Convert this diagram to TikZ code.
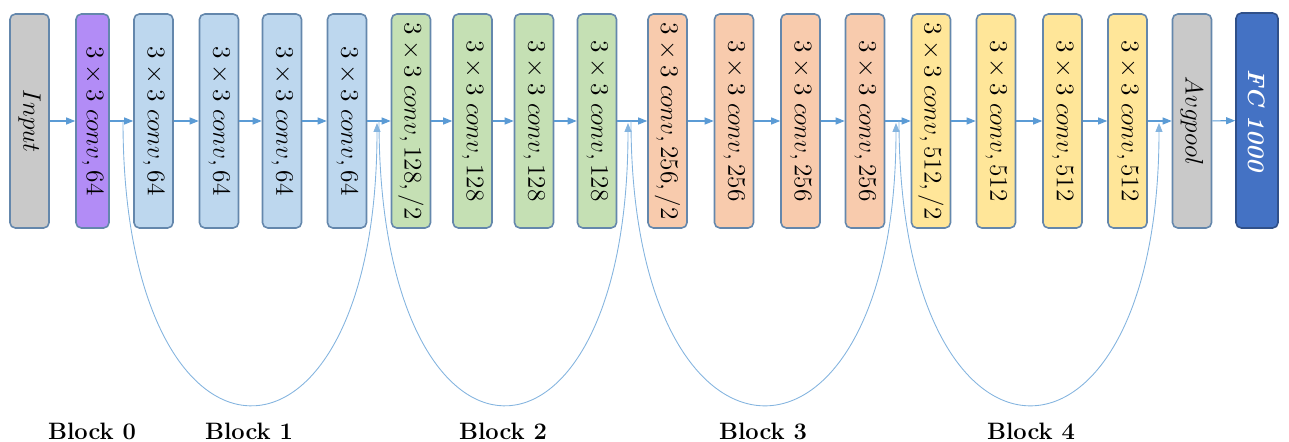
\documentclass[tikz,border=0pt]{standalone}
\usepackage{graphicx}
\usetikzlibrary{arrows.meta}
\definecolor{GrayClr}{RGB}{201,201,201}
\definecolor{PurpleClr}{RGB}{178,140,246}
\definecolor{BlueClr}{RGB}{189,215,238}
\definecolor{GreenClr}{RGB}{197,224,180}
\definecolor{OrangeClr}{RGB}{248,203,173}
\definecolor{YellowClr}{RGB}{255,230,153}
\definecolor{FcClr}{RGB}{68,114,196}
\definecolor{EdgeClr}{RGB}{100,135,172}
\definecolor{LinkClr}{RGB}{91,155,213}
\newcommand{\cv}[1]{\rotatebox{-90}{$3\times3\;conv,#1$}}
\tikzset{
  layer/.style={draw=EdgeClr,line width=0.9pt,rounded corners=3pt,inner sep=0pt,
    minimum width=0.78cm,minimum height=4.28cm,font=\fontsize{15}{18}\selectfont},
  link/.style={LinkClr,line width=0.6pt,-{Triangle[length=1.8mm,width=1.4mm]}},
  skip/.style={LinkClr!75,line width=0.5pt,-{Triangle[length=1.8mm,width=1.4mm]}},
  blocklabel/.style={font=\fontsize{13.5}{16}\selectfont\bfseries}
}
\begin{document}
\begin{tikzpicture}[x=0.02cm,y=-0.02cm]
\useasboundingbox (0,0) rectangle (1289,442);

\node[layer,fill=GrayClr] (In) at (29.5,121) {\rotatebox{-90}{$Input$}};
\node[layer,fill=PurpleClr,minimum width=0.66cm] (C0) at (92.5,121) {\cv{64}};
\node[layer,fill=BlueClr] (B1) at (153.5,121) {\cv{64}};
\node[layer,fill=BlueClr] (B2) at (219,121) {\cv{64}};
\node[layer,fill=BlueClr] (B3) at (282,121) {\cv{64}};
\node[layer,fill=BlueClr] (B4) at (347,121) {\cv{64}};
\node[layer,fill=GreenClr] (G1) at (411,121) {\cv{128,/2}};
\node[layer,fill=GreenClr] (G2) at (472.5,121) {\cv{128}};
\node[layer,fill=GreenClr] (G3) at (534,121) {\cv{128}};
\node[layer,fill=GreenClr] (G4) at (597,121) {\cv{128}};
\node[layer,fill=OrangeClr] (O1) at (667.5,121) {\cv{256,/2}};
\node[layer,fill=OrangeClr] (O2) at (734,121) {\cv{256}};
\node[layer,fill=OrangeClr] (O3) at (800.5,121) {\cv{256}};
\node[layer,fill=OrangeClr] (O4) at (865,121) {\cv{256}};
\node[layer,fill=YellowClr] (Y1) at (931,121) {\cv{512,/2}};
\node[layer,fill=YellowClr] (Y2) at (996,121) {\cv{512}};
\node[layer,fill=YellowClr] (Y3) at (1062.5,121) {\cv{512}};
\node[layer,fill=YellowClr] (Y4) at (1127.5,121) {\cv{512}};
\node[layer,fill=GrayClr] (Pool) at (1192,121) {\rotatebox{-90}{$Avgpool$}};
\node[layer,fill=FcClr,draw=FcClr!70!black,minimum width=0.84cm,minimum height=4.3cm,
  text=white,font=\fontsize{13.5}{16}\selectfont\bfseries\itshape] (FC) at (1257,120.5)
  {\rotatebox{-90}{FC 1000}};

\draw[link] (In) -- (C0);
\draw[link] (C0) -- (B1);
\draw[link] (B1) -- (B2);
\draw[link] (B2) -- (B3);
\draw[link] (B3) -- (B4);
\draw[link] (B4) -- (G1);
\draw[link] (G1) -- (G2);
\draw[link] (G2) -- (G3);
\draw[link] (G3) -- (G4);
\draw[link] (G4) -- (O1);
\draw[link] (O1) -- (O2);
\draw[link] (O2) -- (O3);
\draw[link] (O3) -- (O4);
\draw[link] (O4) -- (Y1);
\draw[link] (Y1) -- (Y2);
\draw[link] (Y2) -- (Y3);
\draw[link] (Y3) -- (Y4);
\draw[link] (Y4) -- (Pool);
\draw[link] (Pool) -- (FC);

\coordinate (S1) at (123,121);
\coordinate (E1) at (377,123);
\coordinate (S2) at (379,121);
\coordinate (E2) at (628,123);
\coordinate (S3) at (631,121);
\coordinate (E3) at (896,123);
\coordinate (S4) at (899,121);
\coordinate (E4) at (1159,123);

\draw[skip] (S1) .. controls +(0,378) and +(0,376) .. (E1);
\draw[skip] (S2) .. controls +(0,378) and +(0,376) .. (E2);
\draw[skip] (S3) .. controls +(0,378) and +(0,376) .. (E3);
\draw[skip] (S4) .. controls +(0,378) and +(0,376) .. (E4);

\node[blocklabel] (L0) at (92,431) {Block 0};
\node[blocklabel] (L1) at (249,431) {Block 1};
\node[blocklabel] (L2) at (503,431) {Block 2};
\node[blocklabel] (L3) at (763,431) {Block 3};
\node[blocklabel] (L4) at (1031,431) {Block 4};

\end{tikzpicture}
\end{document}
